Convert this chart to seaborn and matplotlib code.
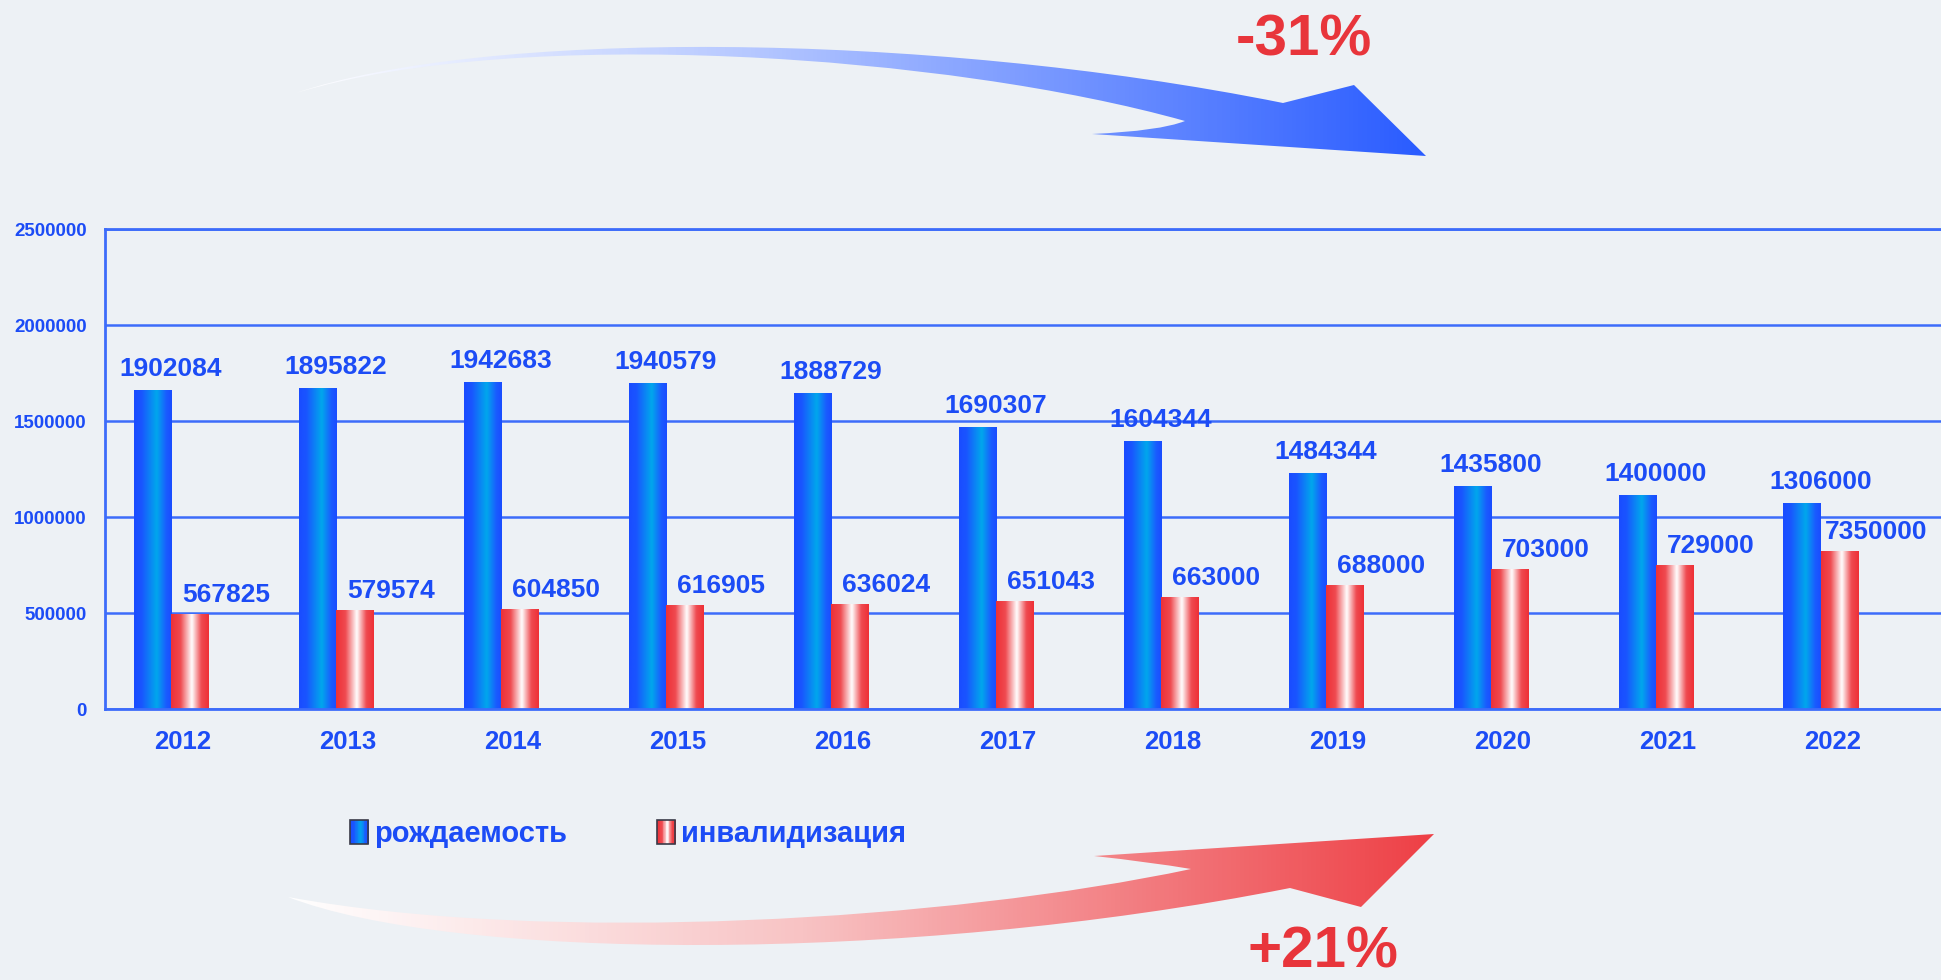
import numpy as np
import pandas as pd
import matplotlib
matplotlib.use('Agg')
import matplotlib.pyplot as plt
import seaborn as sns
from matplotlib.colors import LinearSegmentedColormap
from matplotlib.path import Path
from matplotlib.patches import PathPatch, Rectangle
from matplotlib.legend_handler import HandlerBase
from matplotlib.transforms import ScaledTranslation
from matplotlib.ticker import FuncFormatter

# ---------------- data ----------------
years = ['2012', '2013', '2014', '2015', '2016', '2017', '2018', '2019', '2020', '2021', '2022']
births = [1660000, 1670000, 1701000, 1696000, 1644000, 1467000, 1394000, 1227000, 1164000, 1117000, 1075000]
disability = [496000, 517000, 522000, 543000, 548000, 564000, 585000, 647000, 731000, 752000, 825000]
births_labels = ['1902084', '1895822', '1942683', '1940579', '1888729', '1690307',
                 '1604344', '1484344', '1435800', '1400000', '1306000']
disability_labels = ['567825', '579574', '604850', '616905', '636024', '651043',
                     '663000', '688000', '703000', '729000', '7350000']
series_names = ['рождаемость', 'инвалидизация']
y_ticks = [0, 500000, 1000000, 1500000, 2000000, 2500000]
change_labels = ['-31%', '+21%']

# ---------------- style ----------------
BG = '#edf1f5'
TXT = '#1c4cf6'
GRID = '#3d6cfa'
RED_TXT = '#e8353b'

sns.set_style('white')
plt.rcParams['font.family'] = ['Liberation Sans', 'DejaVu Sans']
plt.rcParams['font.weight'] = 'bold'

blue_cmap = LinearSegmentedColormap.from_list(
    'bl', [(0, '#1a4cff'), (0.2, '#1a55ff'), (0.6, '#00a8ec'), (0.85, '#1a5cff'), (1, '#1a4cff')])
red_cmap = LinearSegmentedColormap.from_list(
    'rd', [(0, '#ee3036'), (0.25, '#ef4a50'), (0.55, '#ffffff'), (0.8, '#ef4a50'), (1, '#ee3036')])

W, H = 1941, 980
fig = plt.figure(figsize=(W / 100, H / 100), dpi=100, facecolor=BG)
ax = fig.add_axes([105 / W, (H - 709) / H, (W - 105) / W, (709 - 229) / H])
ax.set_facecolor(BG)

df = pd.DataFrame({
    'year': years * 2,
    'value': births + disability,
    'series': [series_names[0]] * len(years) + [series_names[1]] * len(years),
})
sns.barplot(data=df, x='year', y='value', hue='series', palette=['#1a4cff', '#ee3036'],
            width=0.45, saturation=1, legend=False, errorbar=None, ax=ax, zorder=2)

# gradient fill for bars
grad = np.linspace(0, 1, 256).reshape(1, -1)
for cont, cmap in zip(ax.containers, [blue_cmap, red_cmap]):
    for p in cont.patches:
        x0, y0 = p.get_x(), p.get_y()
        w, h = p.get_width(), p.get_height()
        im = ax.imshow(grad, extent=[x0, x0 + w, y0, y0 + h], aspect='auto', cmap=cmap,
                       interpolation='bicubic', zorder=2.5)
        im.set_clip_path(p)
        p.set_facecolor('none')
        p.set_edgecolor('none')

# value labels
for k, (cont, labels, dx, dy) in enumerate([(ax.containers[0], births_labels, 0, 14),
                                            (ax.containers[1], disability_labels, 37, 12)]):
    for p, lab in zip(cont.patches, labels):
        if k == 0:
            xref = p.get_x() + p.get_width()
        else:
            xref = p.get_x() + p.get_width() / 2
        ax.annotate(lab, xy=(xref, p.get_height()), xytext=(dx, dy),
                    textcoords='offset pixels', ha='center', va='baseline',
                    fontsize=19, color=TXT, fontweight='bold', zorder=5)

ax.set_xlim(-0.40, 10.73)
ax.set_ylim(0, 2500000)
ax.set_yticks(y_ticks)
ax.yaxis.set_major_formatter(FuncFormatter(lambda v, _: f'{int(v)}'))
ax.set_xlabel('')
ax.set_ylabel('')
ax.yaxis.grid(True, color=GRID, lw=1.8, zorder=0)
ax.xaxis.grid(False)
ax.set_axisbelow(True)
for s in ['left', 'bottom', 'top']:
    ax.spines[s].set_visible(True)
    ax.spines[s].set_color(GRID)
    ax.spines[s].set_linewidth(2)
ax.spines['right'].set_visible(False)
ax.tick_params(axis='y', length=0, pad=13, labelsize=13.5, labelcolor=TXT)
ax.tick_params(axis='x', length=0, pad=15, labelsize=18.5, labelcolor=TXT)
for t in ax.get_yticklabels() + ax.get_xticklabels():
    t.set_fontweight('bold')
shift = ScaledTranslation(12 / 100, 0, fig.dpi_scale_trans)
for t in ax.get_xticklabels():
    t.set_transform(t.get_transform() + shift)


# legend with gradient swatches
class GradHandler(HandlerBase):
    def __init__(self, cmap):
        super().__init__()
        self.cmap = cmap

    def create_artists(self, legend, orig_handle, xdescent, ydescent, width, height, fontsize, trans):
        arts = []
        n = 24
        for k in range(n):
            arts.append(Rectangle((-xdescent + width * k / n, -ydescent - 2), width / n + 0.3, height + 4,
                                  facecolor=self.cmap((k + 0.5) / n), edgecolor='none', transform=trans))
        arts.append(Rectangle((-xdescent, -ydescent - 2), width, height + 4, facecolor='none',
                              edgecolor='#3a3a48', lw=1.2, transform=trans))
        return arts


h1, h2 = Rectangle((0, 0), 1, 1), Rectangle((0, 0), 1, 1)
leg = fig.legend([h1, h2], series_names, handler_map={h1: GradHandler(blue_cmap), h2: GradHandler(red_cmap)},
                 loc='center left', bbox_to_anchor=(350 / W, 1 - 834 / H), ncol=2, frameon=False,
                 fontsize=21, labelcolor=TXT, handlelength=0.62, handleheight=0.6, handletextpad=0.2,
                 columnspacing=3.1, borderpad=0, borderaxespad=0)
for t in leg.get_texts():
    t.set_fontweight('bold')

# overlay for decorative gradient arrows and change labels
oax = fig.add_axes([0, 0, 1, 1])
oax.axis('off')

M, C4, C3, L_, CL = Path.MOVETO, Path.CURVE4, Path.CURVE3, Path.LINETO, Path.CLOSEPOLY
top_verts = [(296, 93), (480, 30), (920, 30), (1283, 103), (1354, 85), (1426, 156), (1092, 134),
             (1160, 131), (1185, 121), (950, 55), (520, 25), (296, 93), (296, 93)]
top_codes = [M, C4, C4, C4, L_, L_, L_, C3, C3, C4, C4, C4, CL]
bot_verts = [(288, 897), (450, 960), (900, 965), (1290, 888), (1361, 907), (1434, 834), (1094, 856),
             (1150, 862), (1191, 869), (950, 920), (550, 945), (288, 897), (288, 897)]
bot_codes = top_codes

arrow_specs = [
    (top_verts, top_codes,
     LinearSegmentedColormap.from_list('ta', [(0, '#ffffff'), (0.4, '#b6c8ff'), (1, '#2a5cff')]), 296, 1426),
    (bot_verts, bot_codes,
     LinearSegmentedColormap.from_list('ba', [(0, '#ffffff'), (0.45, '#f8c3c4'), (1, '#ee4046')]), 288, 1434),
]
for verts, codes, cmap, xa, xb in arrow_specs:
    patch = PathPatch(Path(verts, codes), facecolor='none', edgecolor='none')
    oax.add_patch(patch)
    im = oax.imshow(grad, extent=[xa, xb, 980, 0], aspect='auto', cmap=cmap, interpolation='bicubic')
    im.set_clip_path(patch)

oax.text(1304, 56, change_labels[0], ha='center', va='baseline', fontsize=42, color=RED_TXT, fontweight='bold')
oax.text(1323, 979, change_labels[1], ha='center', va='bottom', fontsize=42, color=RED_TXT, fontweight='bold')
oax.set_xlim(0, W)
oax.set_ylim(H, 0)

fig.savefig('out.png', dpi=100, facecolor=BG)
